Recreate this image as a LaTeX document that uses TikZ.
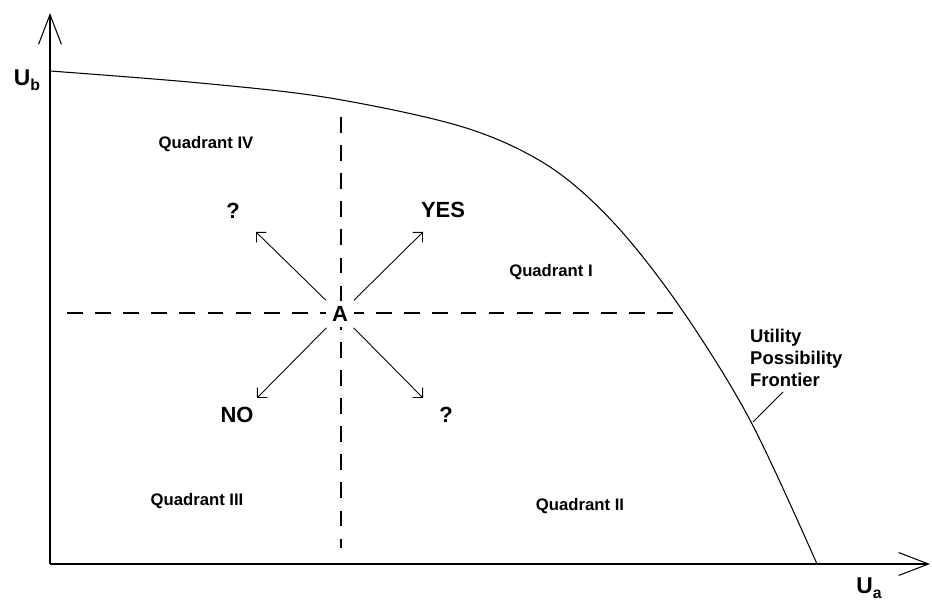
\documentclass[tikz,border=0pt]{standalone}
\usepackage{fontspec}
\setmainfont{Liberation Sans}
\usetikzlibrary{arrows.meta}
\newcommand{\usub}[2]{#1\raisebox{-0.45ex}{\fontsize{9}{9}\selectfont #2}}

\begin{document}
\begin{tikzpicture}[x=0.02cm,y=-0.02cm,
                    ax/.style={line width=1pt,-{Straight Barb[length=17pt,width=13pt,line width=0.6pt]}},
                    dsh/.style={line width=0.7pt,dash pattern=on 9pt off 7pt},
                    mv/.style={line width=0.5pt,-{Straight Barb[length=4pt,width=8pt]}},
                    quad/.style={font=\fontsize{9.5}{11}\selectfont\bfseries},
                    big/.style={font=\fontsize{12.5}{14}\selectfont\bfseries},
                    axlab/.style={font=\fontsize{13}{14}\selectfont\bfseries}]
  \useasboundingbox (0,0) rectangle (932,604);
  % axes
  \coordinate (o) at (50,564);
  \coordinate (ytip) at (50,13);
  \coordinate (xtip) at (930,564);
  \draw[ax] (o) -- (ytip);
  \draw[ax] (o) -- (xtip);
  \node[axlab] (ub) at (27,80) {\usub{U}{b}};
  \node[axlab] (ua) at (869,588) {\usub{U}{a}};
  % frontier
  \draw[line width=0.6pt] plot[smooth,tension=0.55] coordinates {(50,71) (200,83) (330,98) (463,127) (547,165) (613,222) (680,307) (750,420) (817,564)};
  % point A and its quadrants
  \coordinate (vtop) at (341,117);
  \coordinate (vbot) at (341,548);
  \coordinate (hleft) at (67,313);
  \coordinate (hright) at (678,313);
  \draw[dsh] (vtop) -- (vbot);
  \draw[dsh] (hleft) -- (hright);
  \node[big,fill=white] (A) at (340,314) {A};
  \coordinate (ne) at (423,232);
  \coordinate (nw) at (256,232);
  \coordinate (sw) at (257,398);
  \coordinate (se) at (423,398);
  \draw[mv] (A) -- (ne);
  \draw[mv] (A) -- (nw);
  \draw[mv] (A) -- (sw);
  \draw[mv] (A) -- (se);
  \node[big] (yes) at (443,210) {YES};
  \node[big] (q1) at (233,211) {?};
  \node[big] (no) at (237,415) {NO};
  \node[big] (q2) at (446,415) {?};
  \node[quad] (qiv) at (206,144) {Quadrant IV};
  \node[quad] (qi) at (551,272) {Quadrant I};
  \node[quad] (qiii) at (197,501) {Quadrant III};
  \node[quad] (qii) at (580,506) {Quadrant II};
  \node[font=\fontsize{10.5}{12.5}\selectfont\bfseries,align=left,anchor=west] (upf) at (744,358) {Utility\\Possibility\\Frontier};
  \coordinate (ltop) at (783,392);
  \coordinate (lbot) at (753,422);
  \draw[line width=0.5pt] (ltop) -- (lbot);
\end{tikzpicture}
\end{document}
